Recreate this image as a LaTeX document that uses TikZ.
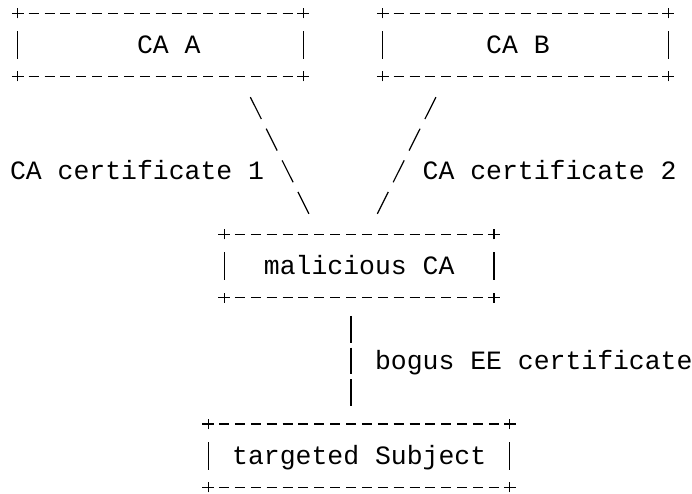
\documentclass[tikz,border=0pt]{standalone}
\usepackage{fontspec}
\setmonofont{Liberation Mono}
\usepackage{tikz}
\usetikzlibrary{calc}
\newdimen\cw \cw=15.87pt
\newdimen\rh \rh=31.6pt
\tikzset{
  asciibox/.style={ minimum width=#1*\cw, minimum height=2*\rh, inner sep=0pt, outer sep=0pt }
}
\tikzset{
  txt/.style={ font=\ttfamily\fontsize{26.45}{31.6}\selectfont, inner sep=0pt, anchor=base west }
}
\tikzset{
  hrule/.style={ line width=1.2pt, dash pattern=on 10pt off 5.87pt, dash phase=5pt }
}
\tikzset{
  vrule/.style={ line width=1.2pt }
}
\tikzset{
  slash/.style={ line width=1.2pt, dash pattern=on 24.5pt off 10.86pt, shorten <=23.1pt, shorten >=23.1pt }
}
\tikzset{
  bar/.style={ line width=1.2pt, dash pattern=on 26.7pt off 4.9pt, shorten <=18.25pt, shorten >=18.25pt }
}
% frame of a box: + at the corners, - along top and bottom, | at the sides
\newcommand{\asciiframe}[1]{%
  \draw[hrule] (#1.north west) -- (#1.north east);
  \draw[hrule] (#1.south west) -- (#1.south east);
  \draw[vrule] ([yshift=-18pt]#1.north west) -- ([yshift=17.5pt]#1.south west);
  \draw[vrule] ([yshift=-18pt]#1.north east) -- ([yshift=17.5pt]#1.south east);
  \foreach \corner in {north west,north east,south west,south east}
    \draw[vrule] ([xshift=-6pt]#1.\corner) -- ([xshift=6pt]#1.\corner)
                 ([yshift=-5pt]#1.\corner) -- ([yshift=5pt]#1.\corner);
}
\begin{document}
\begin{tikzpicture}[x=15.87pt, y=-31.6pt]
  \useasboundingbox (-1.1216,-0.4209) rectangle (42.483,15.212);

  \node[asciibox=18] (caA) at (9,1) {};
  \node[asciibox=18] (caB) at (32,1) {};
  \node[asciibox=17] (mal) at (21.5,8) {};
  \node[asciibox=19] (tgt) at (21.5,14) {};
  \asciiframe{caA}
  \asciiframe{caB}
  \asciiframe{mal}
  \asciiframe{tgt}

  \node[txt] (tA) at (7.5,1.27) {CA A};
  \node[txt] (tB) at (29.5,1.27) {CA B};
  \node[txt] (tM) at (15.5,8.27) {malicious CA};
  \node[txt] (tT) at (13.5,14.27) {targeted Subject};

  \draw[slash] ($(caA.south west)+(14,0)$) -- ($(mal.north west)+(6,0)$);
  \draw[slash] ($(caB.south west)+(4,0)$) -- ($(mal.north west)+(9,0)$);
  \draw[bar] ($(mal.south west)+(8,0)$) -- ($(tgt.north west)+(9,0)$);

  \node[txt] (cert1) at (-0.5,5.27) {CA certificate 1};
  \node[txt] (cert2) at (25.5,5.27) {CA certificate 2};
  \node[txt] (bogus) at (22.5,11.27) {bogus EE certificate};
\end{tikzpicture}
\end{document}
